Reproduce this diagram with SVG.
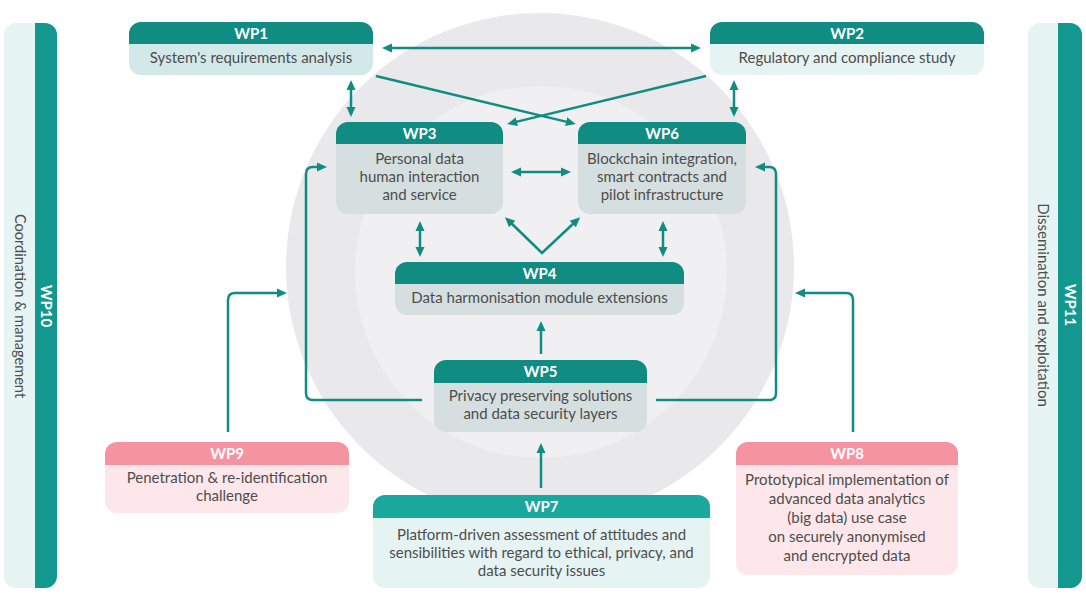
<svg xmlns="http://www.w3.org/2000/svg" width="1086" height="595" viewBox="0 0 1086 595">
<style>
text{font-family:Lato,"Liberation Sans",sans-serif;}
.h{font-size:15px;font-weight:bold;fill:#ffffff;text-anchor:middle;}
.b{font-size:15px;fill:#4d4d4d;text-anchor:middle;}
.hd{fill:#118c82;}
.hd7{fill:#1aa89d;}
.hdp{fill:#f593a0;}
.bd1{fill:#d3e9e9;}
.bd2{fill:#e6f3f3;}
.bdi{fill:#d5dfe0;}
.bdp{fill:#fde7ea;}
.sl{fill:#e6f4f3;}
.sd{fill:#13988f;}
.c{fill:none;stroke:#118c82;stroke-width:2.5;}
</style>
<defs>
<marker id="ah" viewBox="0 0 10 10" refX="3" refY="5" markerWidth="10" markerHeight="10" markerUnits="userSpaceOnUse" orient="auto-start-reverse">
<path d="M0,0.5 L10,5 L0,9.5 Z" fill="#118c82"/>
</marker>
</defs>
<rect width="1086" height="595" fill="#ffffff"/>
<g id="background">
<circle cx="540" cy="267" r="254" fill="#e9e9eb"/>
<circle cx="541" cy="272" r="186" fill="#f0f0f2"/>
</g>
<g id="WP10">
<rect x="4" y="23" width="53" height="565" rx="12" class="sl"/>
<path d="M35 23 H45 A12 12 0 0 1 57 35 V576 A12 12 0 0 1 45 588 H35 Z" class="sd"/>
<text class="b" transform="translate(20,306) rotate(90)" dy="5" style="font-size:14.6px">Coordination &amp; management</text>
<text class="h" transform="translate(46,306) rotate(90)" dy="5">WP10</text>
</g>
<g id="WP11">
<rect x="1028" y="23" width="54" height="565" rx="12" class="sl"/>
<path d="M1058 23 H1070 A12 12 0 0 1 1082 35 V576 A12 12 0 0 1 1070 588 H1058 Z" class="sd"/>
<text class="b" transform="translate(1043,305) rotate(90)" dy="5">Dissemination and exploitation</text>
<text class="h" transform="translate(1070,305) rotate(90)" dy="5">WP11</text>
</g>
<g id="connectors">
<path class="c" d="M389 48 H694" marker-start="url(#ah)" marker-end="url(#ah)"/>
<path class="c" d="M351 87 V110" marker-start="url(#ah)" marker-end="url(#ah)"/>
<path class="c" d="M734 87 V110" marker-start="url(#ah)" marker-end="url(#ah)"/>
<path class="c" d="M376 76 L569 122.4" marker-end="url(#ah)"/>
<path class="c" d="M706 76 L514 122.4" marker-end="url(#ah)"/>
<path class="c" d="M518 172 H564" marker-start="url(#ah)" marker-end="url(#ah)"/>
<path class="c" d="M420 228 V250" marker-start="url(#ah)" marker-end="url(#ah)"/>
<path class="c" d="M663 228 V250" marker-start="url(#ah)" marker-end="url(#ah)"/>
<path class="c" d="M510 222 L542 253 L575 222" marker-start="url(#ah)" marker-end="url(#ah)"/>
<path class="c" d="M541 354 V328" marker-end="url(#ah)"/>
<path class="c" d="M422 400 H313 Q306 400 306 393 V174 Q306 167 313 167 H320" marker-end="url(#ah)"/>
<path class="c" d="M656 400 H769 Q776 400 776 393 V174 Q776 167 769 167 H762" marker-end="url(#ah)"/>
<path class="c" d="M228 432 V300 Q228 293 235 293 H280" marker-end="url(#ah)"/>
<path class="c" d="M853 432 V300 Q853 293 846 293 H802" marker-end="url(#ah)"/>
<path class="c" d="M541 488 V450" marker-end="url(#ah)"/>
</g>
<g id="WP1">
<rect x="129" y="22" width="244" height="53" rx="12" class="bd1"/>
<path d="M129 34 A12 12 0 0 1 141 22 H361 A12 12 0 0 1 373 34 V44 H129 Z" class="hd"/>
<text class="h" x="251" y="39">WP1</text>
<text class="b" x="251" y="63">System's requirements analysis</text>
</g>
<g id="WP2">
<rect x="710" y="22" width="274" height="53" rx="12" class="bd2"/>
<path d="M710 34 A12 12 0 0 1 722 22 H972 A12 12 0 0 1 984 34 V44 H710 Z" class="hd"/>
<text class="h" x="847" y="39">WP2</text>
<text class="b" x="847" y="63">Regulatory and compliance study</text>
</g>
<g id="WP3">
<rect x="336" y="122" width="167" height="92" rx="12" class="bdi"/>
<path d="M336 134 A12 12 0 0 1 348 122 H491 A12 12 0 0 1 503 134 V144 H336 Z" class="hd"/>
<text class="h" x="419.5" y="139">WP3</text>
<text class="b" x="419.5" y="164">Personal data</text>
<text class="b" x="419.5" y="182">human interaction</text>
<text class="b" x="419.5" y="200">and service</text>
</g>
<g id="WP6">
<rect x="578" y="122" width="168" height="92" rx="12" class="bdi"/>
<path d="M578 134 A12 12 0 0 1 590 122 H734 A12 12 0 0 1 746 134 V144 H578 Z" class="hd"/>
<text class="h" x="662" y="139">WP6</text>
<text class="b" x="662" y="164">Blockchain integration,</text>
<text class="b" x="662" y="182">smart contracts and</text>
<text class="b" x="662" y="200">pilot infrastructure</text>
</g>
<g id="WP4">
<rect x="395" y="262" width="289" height="53" rx="12" class="bdi"/>
<path d="M395 274 A12 12 0 0 1 407 262 H672 A12 12 0 0 1 684 274 V284 H395 Z" class="hd"/>
<text class="h" x="539.5" y="279">WP4</text>
<text class="b" x="539.5" y="303">Data harmonisation module extensions</text>
</g>
<g id="WP5">
<rect x="434" y="360" width="213" height="72" rx="12" class="bdi"/>
<path d="M434 372 A12 12 0 0 1 446 360 H635 A12 12 0 0 1 647 372 V383 H434 Z" class="hd"/>
<text class="h" x="540.5" y="377">WP5</text>
<text class="b" x="540.5" y="401">Privacy preserving solutions</text>
<text class="b" x="540.5" y="419">and data security layers</text>
</g>
<g id="WP9">
<rect x="105" y="442" width="244" height="71" rx="12" class="bdp"/>
<path d="M105 454 A12 12 0 0 1 117 442 H337 A12 12 0 0 1 349 454 V465 H105 Z" class="hdp"/>
<text class="h" x="227" y="459">WP9</text>
<text class="b" x="227" y="483">Penetration &amp; re-identification</text>
<text class="b" x="227" y="501">challenge</text>
</g>
<g id="WP7">
<rect x="373" y="495" width="337" height="93" rx="12" class="bd2"/>
<path d="M373 507 A12 12 0 0 1 385 495 H698 A12 12 0 0 1 710 507 V518 H373 Z" class="hd7"/>
<text class="h" x="541.5" y="512">WP7</text>
<text class="b" x="541.5" y="540">Platform-driven assessment of attitudes and</text>
<text class="b" x="541.5" y="558">sensibilities with regard to ethical, privacy, and</text>
<text class="b" x="541.5" y="576">data security issues</text>
</g>
<g id="WP8">
<rect x="736" y="442" width="222" height="133" rx="12" class="bdp"/>
<path d="M736 454 A12 12 0 0 1 748 442 H946 A12 12 0 0 1 958 454 V465 H736 Z" class="hdp"/>
<text class="h" x="847" y="459">WP8</text>
<text class="b" x="847" y="485">Prototypical implementation of</text>
<text class="b" x="847" y="504">advanced data analytics</text>
<text class="b" x="847" y="523">(big data) use case</text>
<text class="b" x="847" y="542">on securely anonymised</text>
<text class="b" x="847" y="561">and encrypted data</text>
</g>
</svg>
